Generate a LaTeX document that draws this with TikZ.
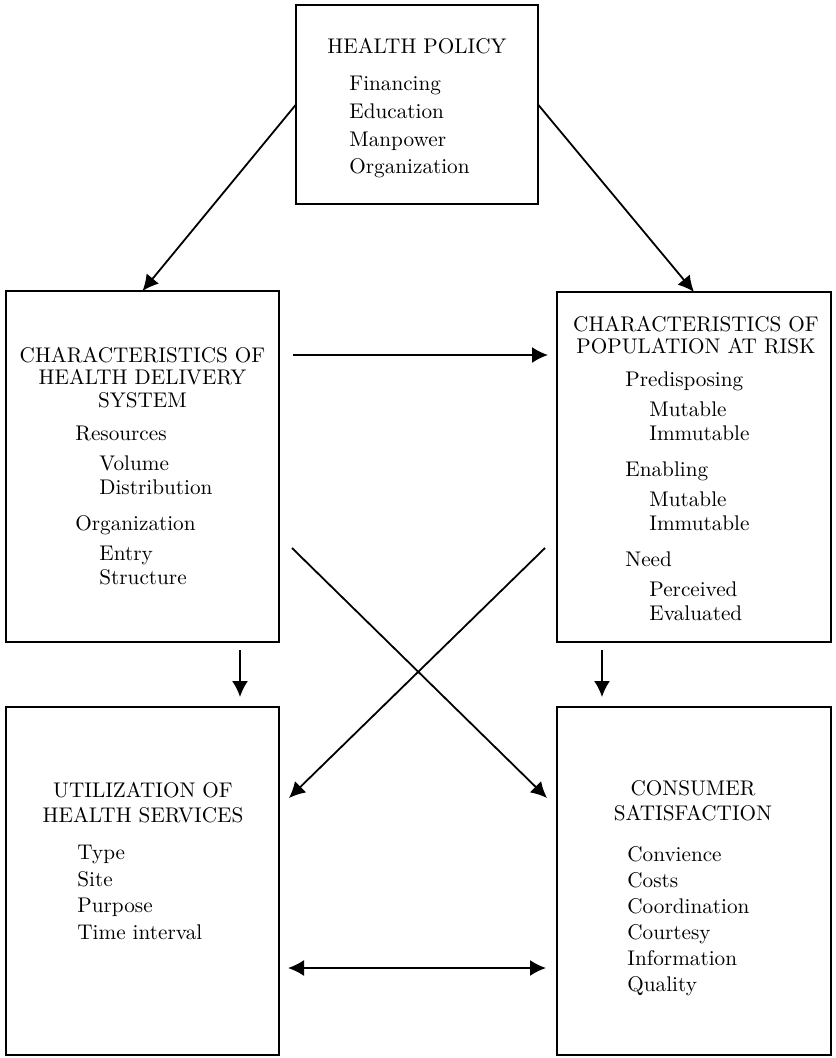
\documentclass[tikz,border=0pt]{standalone}
\usepackage{tikz}
\usetikzlibrary{arrows.meta}
\newcommand{\subi}{\hspace*{12pt}}

\begin{document}
\begin{tikzpicture}[x=0.5pt,y=-0.5pt,
  box/.style={draw,line width=1.3pt,inner sep=0pt,outer sep=0pt},
  title/.style={anchor=north,align=center,inner sep=0pt,
    font=\fontsize{10.6}{11.2}\selectfont},
  items/.style={anchor=north west,align=left,inner sep=0pt,
    font=\fontsize{10.6}{12}\selectfont},
  arrow/.style={-{Latex[length=8pt,width=8pt]},line width=0.9pt},
  twoway/.style={{Latex[length=8pt,width=8pt]}-{Latex[length=8pt,width=8pt]},line width=0.9pt}
]
  \useasboundingbox (0,0) rectangle (835,1058);

  % boxes
  \node[box,minimum width=121pt,minimum height=99.5pt] (pol) at (417,104.5) {};
  \node[box,minimum width=136.5pt,minimum height=175.5pt] (del) at (142.5,466.5) {};
  \node[box,minimum width=137pt,minimum height=175pt] (pop) at (694,467) {};
  \node[box,minimum width=136.5pt,minimum height=174pt] (use) at (142.5,881) {};
  \node[box,minimum width=137pt,minimum height=174pt] (sat) at (694,881) {};

  % texts
  \node[title] (poltitle) at (417,38) {HEALTH POLICY};
  \node[items,font=\fontsize{10.6}{13.8}\selectfont] (politems) at (349,76)
    {Financing\\Education\\Manpower\\Organization};

  \node[title] (deltitle) at (142.5,347)
    {CHARACTERISTICS OF\\HEALTH DELIVERY\\SYSTEM};
  \node[items] (delitems) at (75,426)
    {Resources\\[3pt]\subi Volume\\\subi Distribution\\[6pt]
     Organization\\[3pt]\subi Entry\\\subi Structure};

  \node[title] (poptitle) at (696,316)
    {CHARACTERISTICS OF\\POPULATION AT RISK};
  \node[items] (popitems) at (625,371)
    {Predisposing\\[3pt]\subi Mutable\\\subi Immutable\\[6pt]
     Enabling\\[3pt]\subi Mutable\\\subi Immutable\\[6pt]
     Need\\[3pt]\subi Perceived\\\subi Evaluated};

  \node[title,font=\fontsize{10.6}{12.5}\selectfont] (usetitle) at (143,782)
    {UTILIZATION OF\\HEALTH SERVICES};
  \node[items,font=\fontsize{10.6}{13.3}\selectfont] (useitems) at (77,845)
    {Type\\Site\\Purpose\\Time interval};

  \node[title,font=\fontsize{10.6}{12.5}\selectfont] (sattitle) at (693,780)
    {CONSUMER\\SATISFACTION};
  \node[items,font=\fontsize{10.6}{13}\selectfont] (satitems) at (627,846)
    {Convience\\Costs\\Coordination\\Courtesy\\Information\\Quality};

  % connectors
  \draw[arrow] (pol.west) -- (del.north);
  \draw[arrow] (pol.east) -- (pop.north);
  \draw[arrow] ([shift={(7pt,-32pt)}]del.north east) -- ([shift={(-4.5pt,-31.5pt)}]pop.north west);
  \draw[arrow] ([shift={(-19.5pt,-4pt)}]del.south east) -- ([shift={(-19.5pt,5pt)}]use.north east);
  \draw[arrow] ([shift={(22.5pt,-4pt)}]pop.south west) -- ([shift={(22.5pt,5pt)}]sat.north west);
  \draw[arrow] ([shift={(6.5pt,47pt)}]del.south east) -- ([shift={(-5pt,-45.5pt)}]sat.north west);
  \draw[arrow] ([shift={(-6pt,47pt)}]pop.south west) -- ([shift={(5pt,-45.5pt)}]use.north east);
  \draw[twoway] ([shift={(4.5pt,-130.5pt)}]use.north east) -- ([shift={(-5.5pt,-130.5pt)}]sat.north west);
\end{tikzpicture}
\end{document}
